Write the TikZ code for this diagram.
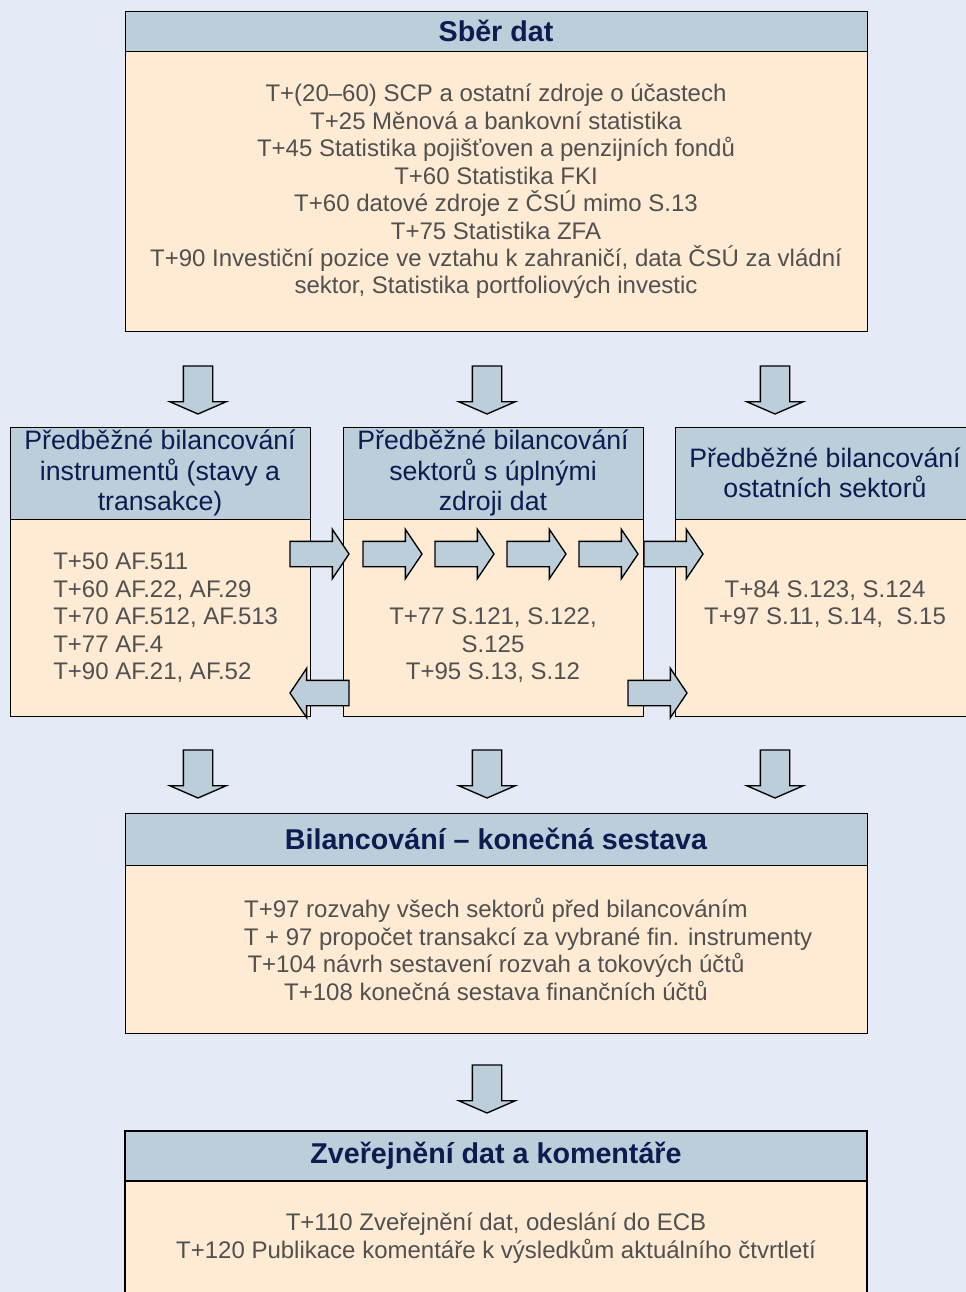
\documentclass[tikz,border=0pt]{standalone}
\usepackage{fontspec}
\setmainfont{Liberation Sans}
\usetikzlibrary{positioning, shapes.arrows}

\definecolor{bgblue}{RGB}{228,235,246}
\definecolor{hdrblue}{RGB}{187,206,218}
\definecolor{peach}{RGB}{255,235,211}
\definecolor{navy}{RGB}{12,28,80}
\definecolor{txtgray}{RGB}{80,80,80}

\begin{document}
\begin{tikzpicture}[x=0.75pt, y=-0.75pt,
		hdr/.style={draw, fill=hdrblue, line width=0.75pt, inner sep=0pt, outer sep=0pt, text=navy, align=center},
		bdy/.style={draw, fill=peach, line width=0.75pt, inner sep=0pt, outer sep=0pt},
		ttl/.style={font=\bfseries\fontsize{21.5}{24}\selectfont},
		sub/.style={font=\fontsize{20}{22.9}\selectfont},
		txt/.style={text=txtgray, font=\fontsize{18}{20.6}\selectfont, inner sep=0pt},
		blk/.style={single arrow, draw, fill=hdrblue, line width=1pt, inner xsep=0pt, outer sep=0pt,
			single arrow head indent=0pt, anchor=tail},
		rarr/.style={blk, inner ysep=9pt, minimum height=44.25pt, minimum width=36pt, single arrow head extend=9pt, single arrow tip angle=112},
		darr/.style={blk, inner ysep=10.5pt, minimum height=36pt, minimum width=41.25pt, single arrow head extend=10.1pt, single arrow tip angle=133, rotate=-90}]

		\useasboundingbox (0,0) rectangle (966,1292);
		\clip (0,0) rectangle (966,1292);
		\fill[bgblue] (0,0) rectangle (966,1292);

		% sber dat
		\node at (125,11) [hdr, ttl, anchor=north west, minimum width=556.5pt, minimum height=30pt] (SberHdr) {Sběr dat};
		\node [bdy, below=0pt of SberHdr, minimum width=556.5pt, minimum height=210pt] (SberBody) {};
		\node at (496,191.5) [txt, align=center] (SberTxt) {T+(20–60) SCP a ostatní zdroje o účastech\\
			T+25 Měnová a bankovní statistika\\
			T+45 Statistika pojišťoven a penzijních fondů\\
			T+60 Statistika FKI\\
			T+60 datové zdroje z ČSÚ mimo S.13\\
			T+75 Statistika ZFA\\
			T+90 Investiční pozice ve vztahu k zahraničí, data ČSÚ za vládní\\
			sektor, Statistika portfoliových investic};

		\node at (198,366) [darr] (DownA1) {};
		\node at (487,366) [darr] (DownA2) {};
		\node at (775,366) [darr] (DownA3) {};

		% predbezne bilancovani
		\node at (10,427) [hdr, sub, anchor=north west, minimum width=225pt, minimum height=69pt] (InstrHdr) {Předběžné bilancování\\instrumentů (stavy a\\transakce)};
		\node [bdy, below=0pt of InstrHdr, minimum width=225pt, minimum height=147.75pt] (InstrBody) {};
		\node at (343,427) [hdr, sub, anchor=north west, minimum width=225pt, minimum height=69pt] (UplHdr) {Předběžné bilancování\\sektorů s úplnými\\zdroji dat};
		\node [bdy, below=0pt of UplHdr, minimum width=225pt, minimum height=147.75pt] (UplBody) {};
		\node at (675,427) [hdr, sub, anchor=north west, minimum width=225pt, minimum height=69pt] (OstHdr) {Předběžné bilancování\\ostatních sektorů};
		\node [bdy, below=0pt of OstHdr, minimum width=225pt, minimum height=147.75pt] (OstBody) {};

		\node at (53,618) [txt, align=left, anchor=west] (InstrTxt) {T+50 AF.511\\T+60 AF.22, AF.29\\T+70 AF.512, AF.513\\T+77 AF.4\\T+90 AF.21, AF.52};
		\node at (493,645.5) [txt, align=center] (UplTxt) {T+77 S.121, S.122,\\S.125\\T+95 S.13, S.12};
		\node at (825,604) [txt, align=center] (OstTxt) {T+84 S.123, S.124\\T+97 S.11, S.14,~ S.15};

		% sipky mezi sloupci
		\foreach \xa/\nm in {290/R1, 363/R2, 435/R3, 507/R4, 579/R5, 644/R6}
			\node at (\xa,554) [rarr] (Arr\nm) {};
		\node at (349,693) [rarr, rotate=180] (ArrBackL) {};
		\node at (628,693) [rarr] (ArrFwdR) {};

		\node at (198,750) [darr] (DownB1) {};
		\node at (487,750) [darr] (DownB2) {};
		\node at (775,750) [darr] (DownB3) {};

		% konecna sestava
		\node at (125,813) [hdr, ttl, anchor=north west, minimum width=556.5pt, minimum height=39pt] (BilHdr) {Bilancování – konečná sestava};
		\node [bdy, below=0pt of BilHdr, minimum width=556.5pt, minimum height=126pt] (BilBody) {};
		\node at (496,949.5) [txt, align=center] (BilTxt) {T+97 rozvahy všech sektorů před bilancováním\\
			\hspace*{48pt}T + 97 propočet transakcí za vybrané fin. instrumenty\\
			T+104 návrh sestavení rozvah a tokových účtů\\
			T+108 konečná sestava finančních účtů};

		\node at (487,1065) [darr] (DownC) {};

		% zverejneni
		\node at (125,1131) [hdr, ttl, line width=1.5pt, anchor=north west, minimum width=556.5pt, minimum height=37.5pt] (PubHdr) {Zveřejnění dat a komentáře};
		\node [bdy, line width=1.5pt, below=0pt of PubHdr, minimum width=556.5pt, minimum height=84.75pt] (PubBody) {};
		\node at (496,1238) [txt, align=center] (PubTxt) {T+110 Zveřejnění dat, odeslání do ECB\\T+120 Publikace komentáře k výsledkům aktuálního čtvrtletí};
	\end{tikzpicture}
\end{document}
